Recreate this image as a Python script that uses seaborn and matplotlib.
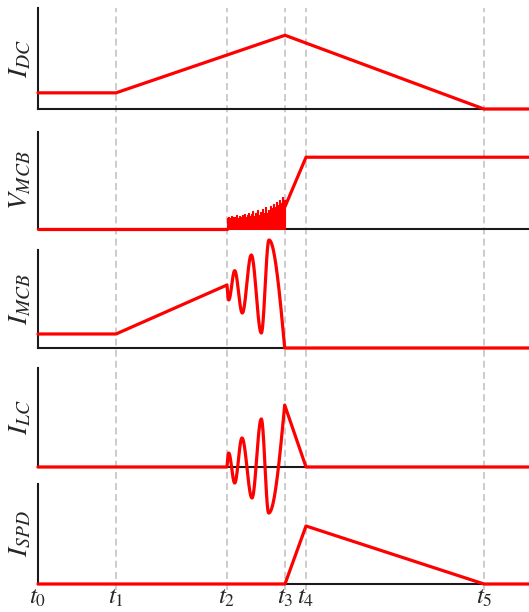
import numpy as np
import matplotlib
matplotlib.use("Agg")
import matplotlib.pyplot as plt
import seaborn as sns

sns.set_style("white")
plt.rcParams["mathtext.fontset"] = "stix"
plt.rcParams["lines.scale_dashes"] = False

# ---------------- data (x in time units, y in % of panel height) ----------------
t_pos = [0, 78, 189, 247, 268, 446]
t_labels = [r"$t_0$", r"$t_1$", r"$t_2$", r"$t_3$", r"$t_4$", r"$t_5$"]
x_end = 491

# I_DC
idc_x = [0, 78, 247, 446, 491]
idc_y = [16, 16, 73, 0, 0]
idc_k = ["line", "line", "line", "line"]

# V_MCB : flat, arc noise between t2 and t3, then rise to t4
vmcb_x = [0, 189]
vmcb_y = [0, 0]
vmcb_rise_x = [247, 268, 491]
vmcb_rise_y = [23, 74, 74]
noise_start = 189
noise_h = [11, 9, 12, 10, 11, 13, 10, 12, 9, 12, 14, 11, 10, 13, 10, 12, 14, 11, 15, 12,
           11, 14, 17, 13, 12, 15, 19, 13, 12, 16, 20, 14, 13, 18, 15, 21, 15, 17, 23, 17,
           16, 20, 19, 24, 18, 22, 26, 20, 23, 28, 22, 25, 30, 24, 27, 33, 27, 30, 26]

# I_MCB (extrema of the oscillation)
imcb_x = [0, 78, 189, 190.7, 196.7, 204.3, 213.3, 223.3, 231, 246.7, 491]
imcb_y = [14.3, 14.3, 64.3, 49, 78.9, 35.7, 94.9, 15.3, 110.2, 0, 0]
imcb_k = ["line", "line", "out", "cos", "cos", "cos", "cos", "cos", "in", "line"]

# I_LC
ilc_x = [0, 189, 190.7, 196.7, 204, 214, 223.3, 230.7, 246.7, 268, 491]
ilc_y = [0, 0, 14.1, -16.2, 29.3, -31.3, 48.5, -46.5, 62.6, 0, 0]
ilc_k = ["line", "out", "cos", "cos", "cos", "cos", "cos", "in", "line", "line"]

# I_SPD
ispd_x = [0, 247, 268, 446, 491]
ispd_y = [0, 0, 58, 0, 0]
ispd_k = ["line", "line", "line", "line"]


def build_path(xs, ys, kinds, n=40):
    px, py = [xs[0]], [ys[0]]
    s = np.linspace(0, 1, n)[1:]
    for i, k in enumerate(kinds):
        x0, x1, y0, y1 = xs[i], xs[i + 1], ys[i], ys[i + 1]
        if k == "line":
            f = s
        elif k == "cos":
            f = (1 - np.cos(np.pi * s)) / 2
        elif k == "out":
            f = np.sin(np.pi / 2 * s)
        else:  # "in"
            f = 1 - np.cos(np.pi / 2 * s)
        px.extend(x0 + (x1 - x0) * s)
        py.extend(y0 + (y1 - y0) * f)
    return np.array(px), np.array(py)


W, H = 529, 612
fig = plt.figure(figsize=(W / 100, H / 100), dpi=100)
left_px = 38
ax_left = left_px / W
ax_w = (W - left_px) / W

# panels: (top px, bottom px)
panels = [(8, 109), (132, 229), (250, 348), (368, 467), (484, 584)]
ylabels = [r"$I_{DC}$", r"$V_{MCB}$", r"$I_{MCB}$", r"$I_{LC}$", r"$I_{SPD}$"]

# overlay for dashed guide lines
ov = fig.add_axes([ax_left, (H - 590) / H, ax_w, (590 - 8) / H])
ov.set_xlim(0, x_end)
ov.set_ylim(0, 1)
ov.axis("off")
ov.set_zorder(0)
for t in t_pos[1:]:
    ov.axvline(t, color="#c4c4c4", lw=1.2, linestyle=(0, (5, 3)))

RED = "#ff0000"
LW = 2.3
axes = []
for i, (top, bot) in enumerate(panels):
    ax = fig.add_axes([ax_left, (H - bot) / H, ax_w, (bot - top) / H])
    ax.set_zorder(1 + i)
    ax.patch.set_alpha(0)
    ax.set_xlim(0, x_end)
    ax.set_ylim(0, 100)
    sns.despine(ax=ax)
    for sp in ("left", "bottom"):
        ax.spines[sp].set_color("#1a1a1a")
        ax.spines[sp].set_linewidth(1.5)
    ax.set_yticks([])
    ax.set_xticks([])
    ax.set_ylabel(ylabels[i], fontsize=20, labelpad=3)
    axes.append(ax)

def draw(ax, xs, ys, kinds):
    px, py = build_path(xs, ys, kinds)
    sns.lineplot(x=px, y=py, ax=ax, color=RED, lw=LW, sort=False,
                 estimator=None, clip_on=False, zorder=5)

draw(axes[0], idc_x, idc_y, idc_k)

# V_MCB
sns.lineplot(x=vmcb_x, y=vmcb_y, ax=axes[1], color=RED, lw=LW, sort=False,
             estimator=None, clip_on=False, zorder=5)
nx = np.arange(noise_start, noise_start + len(noise_h))
axes[1].fill_between(nx, 0, noise_h, step="mid", facecolor=RED, edgecolor=RED,
                     lw=0.8, zorder=5)
sns.lineplot(x=vmcb_rise_x, y=vmcb_rise_y, ax=axes[1], color=RED, lw=LW, sort=False,
             estimator=None, clip_on=False, zorder=5)

draw(axes[2], imcb_x, imcb_y, imcb_k)
draw(axes[3], ilc_x, ilc_y, ilc_k)
draw(axes[4], ispd_x, ispd_y, ispd_k)

axes[4].set_xticks(t_pos)
axes[4].set_xticklabels(t_labels, fontsize=18)
axes[4].tick_params(axis="x", length=0, pad=1)

fig.savefig("out.png", dpi=100)
